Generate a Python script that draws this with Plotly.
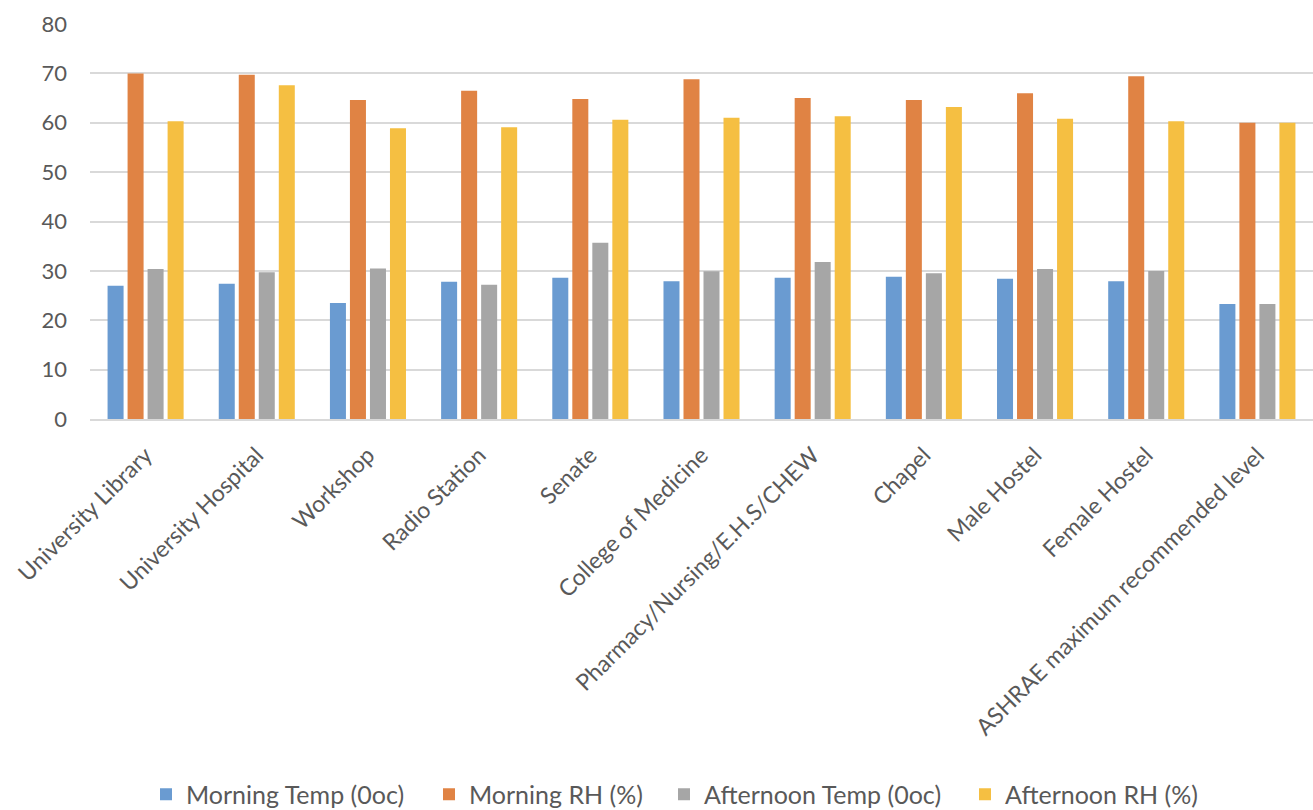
import plotly.graph_objects as go

# Indoor conditions by campus location
locations = [
    "University Library", "University Hospital", "Workshop", "Radio Station",
    "Senate", "College of Medicine", "Pharmacy/Nursing/E.H.S/CHEW", "Chapel",
    "Male Hostel", "Female Hostel", "ASHRAE maximum recommended level",
]
morning_temp = [27.0, 27.4, 23.5, 27.8, 28.6, 27.9, 28.6, 28.8, 28.4, 27.9, 23.3]
morning_rh = [70.0, 69.7, 64.6, 66.5, 64.8, 68.8, 65.0, 64.6, 66.0, 69.4, 60.0]
afternoon_temp = [30.4, 29.7, 30.5, 27.2, 35.7, 29.9, 31.8, 29.5, 30.4, 30.0, 23.3]
afternoon_rh = [60.3, 67.6, 58.9, 59.1, 60.6, 61.0, 61.3, 63.2, 60.8, 60.3, 60.0]

series = [
    ("Morning Temp (0oc)", morning_temp, "#6A9BD1"),
    ("Morning RH (%)", morning_rh, "#E08344"),
    ("Afternoon Temp (0oc)", afternoon_temp, "#A6A6A6"),
    ("Afternoon RH (%)", afternoon_rh, "#F5BF42"),
]

y_ticks = [0, 10, 20, 30, 40, 50, 60, 70, 80]

W, H = 1313, 810
M_L, M_R, M_T, M_B = 90, 0, 24, 391

# one single-entry legend per series so each key sits at its own spot
legend_left_px = [146, 429, 664, 965]
legend_names = ["legend", "legend2", "legend3", "legend4"]

font_family = "Lato, 'Open Sans', sans-serif"
text_color = "#595959"

fig = go.Figure()
for (name, vals, color), lg in zip(series, legend_names):
    fig.add_trace(go.Bar(
        x=locations, y=vals, name=name, legend=lg,
        marker=dict(color=color, line=dict(width=0)),
    ))

layout_legends = {}
for lg, px in zip(legend_names, legend_left_px):
    layout_legends[lg] = dict(
        xref="paper", x=(px - M_L) / (W - M_L - M_R), xanchor="left",
        yref="container", y=0.019, yanchor="middle",
        orientation="h", borderwidth=0, bgcolor="rgba(0,0,0,0)",
        font=dict(size=25, color=text_color, family=font_family),
    )

fig.update_layout(
    width=W, height=H,
    margin=dict(l=M_L, r=M_R, t=M_T, b=M_B),
    plot_bgcolor="white", paper_bgcolor="white",
    barmode="group", bargap=0.28, bargroupgap=0.2,
    font=dict(family=font_family, size=19, color=text_color),
    showlegend=True,
    xaxis=dict(
        tickangle=-45, showgrid=False, showline=True,
        linecolor="#d9d9d9", linewidth=1.5, ticks="",
        ticklabelstandoff=12,
        tickfont=dict(size=23, color=text_color),
    ),
    yaxis=dict(
        range=[0, 80], tickvals=y_ticks, showgrid=True,
        gridcolor="#d9d9d9", gridwidth=1.5, zeroline=False,
        showline=False, ticks="", ticklen=0, ticklabelstandoff=22,
        tickfont=dict(size=22, color=text_color),
    ),
    **layout_legends,
)

fig.write_html("out.html")
